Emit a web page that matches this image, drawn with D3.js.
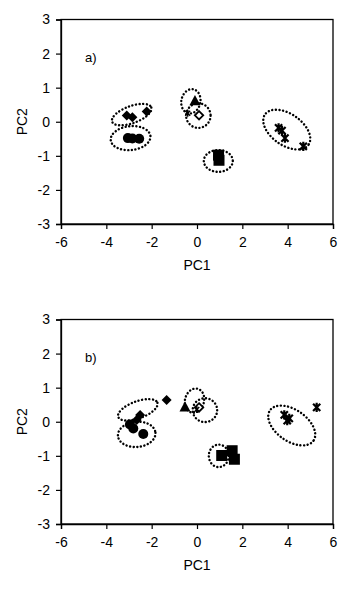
<!DOCTYPE html>
<html>
<head>
<meta charset="utf-8">
<script src="https://cdn.jsdelivr.net/npm/d3@7"></script>
<style>
  html, body { margin: 0; padding: 0; background: #fff; }
  svg { display: block; }
  text { font-family: "Liberation Sans", Arial, sans-serif; fill: #000; }
</style>
</head>
<body>
<svg id="chart" width="339" height="590"></svg>
<script>
// PCA score plots: two panels, one group of samples per marker type
const xTicks = [-6, -4, -2, 0, 2, 4, 6];
const yTicks = [-3, -2, -1, 0, 1, 2, 3];
const panelLabels = ["a)", "b)"];

// Scores [PC1, PC2] per group, panel a
const diamondA = [[-3.1, 0.18], [-2.85, 0.13], [-2.22, 0.3]];
const circleA = [[-3.05, -0.48], [-2.85, -0.49], [-2.55, -0.5]];
const triangleA = [[-0.09, 0.62]];
const openDiamondA = [[0.09, 0.19]];
const smallStarA = [[-0.41, 0.25]];
const squareA = [[0.95, -0.98], [0.97, -1.13]];
const starA = [[3.6, -0.18], [3.75, -0.26], [3.88, -0.48], [4.69, -0.72]];

// Scores [PC1, PC2] per group, panel b
const diamondB = [[-1.34, 0.64], [-2.51, 0.2], [-2.66, 0.05]];
const circleB = [[-2.96, -0.08], [-2.81, -0.2], [-2.37, -0.36]];
const triangleB = [[-0.53, 0.44]];
const openDiamondB = [[0.09, 0.42]];
const smallStarB = [[-0.01, 0.36]];
const squareB = [[1.09, -0.99], [1.55, -0.85], [1.65, -1.1]];
const starB = [[3.85, 0.2], [4.07, 0.1], [3.98, 0.03], [5.28, 0.42]];

// Group ellipses: [centre PC1, centre PC2, half-width PC1, half-height PC2, tilt deg]
const ellipsesA = [
  [-2.88, 0.21, 0.92, 0.25, -20],
  [-2.93, -0.48, 0.88, 0.35, -6],
  [-0.27, 0.6, 0.42, 0.36, 12],
  [0.06, 0.18, 0.54, 0.36, 0],
  [0.94, -1.15, 0.64, 0.32, 0],
  [3.96, -0.23, 1.17, 0.46, 35]
];
const ellipsesB = [
  [-2.61, 0.35, 0.92, 0.25, -20],
  [-2.66, -0.37, 0.83, 0.37, -5],
  [-0.11, 0.62, 0.42, 0.36, 15],
  [0.35, 0.34, 0.54, 0.35, 0],
  [0.96, -1.0, 0.44, 0.33, 0],
  [4.18, -0.11, 1.17, 0.46, 35]
];

const panels = [
  { top: 19.5, label: panelLabels[0], ell: ellipsesA,
    groups: { diamond: diamondA, circle: circleA, triangle: triangleA, openDiamond: openDiamondA,
              smallStar: smallStarA, square: squareA, star: starA } },
  { top: 319.5, label: panelLabels[1], ell: ellipsesB,
    groups: { diamond: diamondB, circle: circleB, triangle: triangleB, openDiamond: openDiamondB,
              smallStar: smallStarB, square: squareB, star: starB } }
];

const svg = d3.select("#chart");
const left = 61, width = 272, height = 204.5;

const x = d3.scaleLinear().domain([-6, 6]).range([0, width]);
const y = d3.scaleLinear().domain([-3, 3]).range([height, 0]);

const starPath = s => `M${-s},${-s}L${s},${s}M${-s},${s}L${s},${-s}M0,${-s - 1}L0,${s + 1}`;
const diamondPath = s => `M0,${-s}L${s},0L0,${s}L${-s},0Z`;
const trianglePath = s => `M0,${-s}L${s},${s * 0.85}L${-s},${s * 0.85}Z`;

panels.forEach(p => {
  const g = svg.append("g").attr("transform", `translate(${left},${p.top})`);

  // frame
  g.append("rect").attr("width", width).attr("height", height)
    .attr("fill", "none").attr("stroke", "#000").attr("stroke-width", 1.3);

  const xa = g.append("g").attr("transform", `translate(0,${height})`)
    .call(d3.axisBottom(x).tickValues(xTicks).tickSize(5).tickPadding(8).tickFormat(d => String(d)));
  const ya = g.append("g")
    .call(d3.axisLeft(y).tickValues(yTicks).tickSize(5).tickPadding(6).tickFormat(d => String(d)));
  [xa, ya].forEach(a => {
    a.select(".domain").attr("stroke", "#000").attr("stroke-width", 1.3);
    a.selectAll(".tick line").attr("stroke", "#000").attr("stroke-width", 1.2);
    a.selectAll("text").style("font-size", "14px").style("font-family", "Liberation Sans, Arial, sans-serif");
  });

  g.append("text").attr("x", width / 2).attr("y", height + 46)
    .attr("text-anchor", "middle").style("font-size", "14px").text("PC1");
  g.append("text").attr("transform", `translate(-34,${height / 2}) rotate(-90)`)
    .attr("text-anchor", "middle").style("font-size", "14px").text("PC2");

  g.append("text").attr("x", 24).attr("y", 42)
    .style("font-size", "13px").style("font-family", "Liberation Sans Narrow, Liberation Sans, sans-serif")
    .text(p.label);

  // dotted group ellipses
  g.selectAll(".ell").data(p.ell).join("ellipse")
    .attr("cx", d => x(d[0])).attr("cy", d => y(d[1]))
    .attr("rx", d => x(d[2]) - x(0)).attr("ry", d => y(0) - y(d[3]))
    .attr("transform", d => `rotate(${d[4]},${x(d[0])},${y(d[1])})`)
    .attr("fill", "none").attr("stroke", "#000").attr("stroke-width", 2.4)
    .attr("stroke-linecap", "round").attr("stroke-dasharray", "0.1,3.5");

  const gr = p.groups;
  g.selectAll(".sq").data(gr.square).join("rect")
    .attr("x", d => x(d[0]) - 5.5).attr("y", d => y(d[1]) - 5.5)
    .attr("width", 11).attr("height", 11).attr("fill", "#000");
  g.selectAll(".ci").data(gr.circle).join("circle")
    .attr("cx", d => x(d[0])).attr("cy", d => y(d[1])).attr("r", 5).attr("fill", "#000");
  g.selectAll(".di").data(gr.diamond).join("path")
    .attr("d", diamondPath(5))
    .attr("transform", d => `translate(${x(d[0])},${y(d[1])})`).attr("fill", "#000");
  g.selectAll(".tr").data(gr.triangle).join("path")
    .attr("d", trianglePath(5.5))
    .attr("transform", d => `translate(${x(d[0])},${y(d[1])})`).attr("fill", "#000");
  g.selectAll(".od").data(gr.openDiamond).join("path")
    .attr("d", diamondPath(4.2))
    .attr("transform", d => `translate(${x(d[0])},${y(d[1])})`)
    .attr("fill", "#fff").attr("stroke", "#000").attr("stroke-width", 1.8);
  g.selectAll(".ss").data(gr.smallStar).join("path")
    .attr("d", starPath(2.5))
    .attr("transform", d => `translate(${x(d[0])},${y(d[1])})`)
    .attr("fill", "none").attr("stroke", "#000").attr("stroke-width", 1.4);
  g.selectAll(".st").data(gr.star).join("path")
    .attr("d", starPath(3.6))
    .attr("transform", d => `translate(${x(d[0])},${y(d[1])})`)
    .attr("fill", "none").attr("stroke", "#000").attr("stroke-width", 2.2);
});
</script>
</body>
</html>
